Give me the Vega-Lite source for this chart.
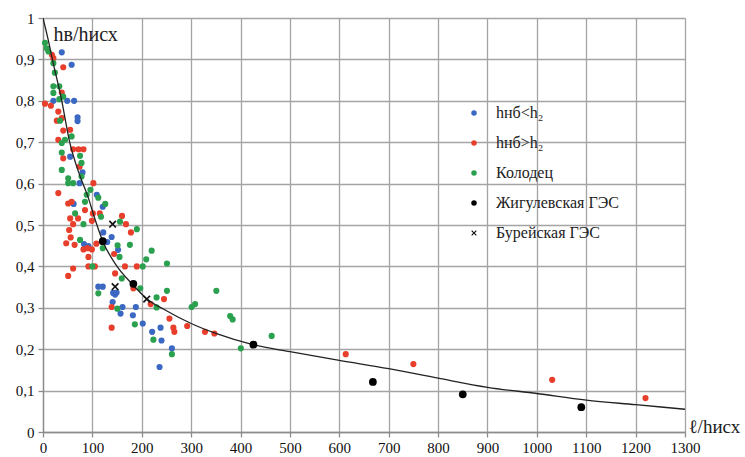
{
  "$schema": "https://vega.github.io/schema/vega-lite/v6.json",
  "width": 642,
  "height": 414,
  "autosize": "none",
  "padding": {"left": 43, "top": 18, "right": 60, "bottom": 25},
  "background": "white",
  "config": {
    "font": "Liberation Serif",
    "view": {"stroke": null},
    "legend": {
      "orient": "none",
      "legendX": 423,
      "legendY": 87,
      "padding": 0,
      "symbolSize": 30,
      "labelFont": "Liberation Serif",
      "labelFontSize": 16,
      "labelColor": "#222",
      "labelOffset": 14,
      "rowPadding": 14,
      "symbolStrokeWidth": 0
    }
  },
  "datasets": {
    "pts": [
      {"x": 38, "y": 0.917, "s": "b"}, {"x": 58, "y": 0.887, "s": "b"}, {"x": 21, "y": 0.80, "s": "b"}, {"x": 49, "y": 0.80, "s": "b"},
      {"x": 63, "y": 0.80, "s": "b"}, {"x": 70, "y": 0.76, "s": "b"}, {"x": 70, "y": 0.751, "s": "b"}, {"x": 55, "y": 0.665, "s": "b"},
      {"x": 80, "y": 0.627, "s": "b"}, {"x": 74, "y": 0.601, "s": "b"}, {"x": 109, "y": 0.573, "s": "b"}, {"x": 62, "y": 0.551, "s": "b"},
      {"x": 121, "y": 0.544, "s": "b"}, {"x": 122, "y": 0.482, "s": "b"}, {"x": 139, "y": 0.471, "s": "b"}, {"x": 130, "y": 0.459, "s": "b"},
      {"x": 83, "y": 0.454, "s": "b"}, {"x": 92, "y": 0.449, "s": "b"}, {"x": 152, "y": 0.44, "s": "b"}, {"x": 112, "y": 0.351, "s": "b"},
      {"x": 121, "y": 0.351, "s": "b"}, {"x": 146, "y": 0.332, "s": "b"}, {"x": 142, "y": 0.336, "s": "b"}, {"x": 149, "y": 0.337, "s": "b"},
      {"x": 141, "y": 0.314, "s": "b"}, {"x": 161, "y": 0.302, "s": "b"}, {"x": 157, "y": 0.286, "s": "b"}, {"x": 188, "y": 0.302, "s": "b"},
      {"x": 182, "y": 0.282, "s": "b"}, {"x": 202, "y": 0.262, "s": "b"}, {"x": 221, "y": 0.242, "s": "b"}, {"x": 238, "y": 0.252, "s": "b"},
      {"x": 240, "y": 0.221, "s": "b"}, {"x": 261, "y": 0.202, "s": "b"}, {"x": 236, "y": 0.157, "s": "b"},

      {"x": 18, "y": 0.911, "s": "r"}, {"x": 21, "y": 0.903, "s": "r"}, {"x": 41, "y": 0.881, "s": "r"}, {"x": 38, "y": 0.82, "s": "r"},
      {"x": 4, "y": 0.793, "s": "r"}, {"x": 16, "y": 0.788, "s": "r"}, {"x": 31, "y": 0.774, "s": "r"}, {"x": 28, "y": 0.752, "s": "r"},
      {"x": 38, "y": 0.758, "s": "r"}, {"x": 41, "y": 0.728, "s": "r"}, {"x": 55, "y": 0.73, "s": "r"}, {"x": 31, "y": 0.706, "s": "r"},
      {"x": 61, "y": 0.683, "s": "r"}, {"x": 72, "y": 0.683, "s": "r"}, {"x": 82, "y": 0.683, "s": "r"}, {"x": 41, "y": 0.661, "s": "r"},
      {"x": 74, "y": 0.641, "s": "r"}, {"x": 102, "y": 0.601, "s": "r"}, {"x": 31, "y": 0.577, "s": "r"}, {"x": 51, "y": 0.552, "s": "r"},
      {"x": 58, "y": 0.556, "s": "r"}, {"x": 85, "y": 0.536, "s": "r"}, {"x": 101, "y": 0.528, "s": "r"}, {"x": 115, "y": 0.528, "s": "r"},
      {"x": 55, "y": 0.516, "s": "r"}, {"x": 71, "y": 0.516, "s": "r"}, {"x": 61, "y": 0.502, "s": "r"}, {"x": 160, "y": 0.522, "s": "r"},
      {"x": 168, "y": 0.502, "s": "r"}, {"x": 99, "y": 0.51, "s": "r"}, {"x": 53, "y": 0.488, "s": "r"}, {"x": 178, "y": 0.482, "s": "r"},
      {"x": 56, "y": 0.47, "s": "r"}, {"x": 47, "y": 0.456, "s": "r"}, {"x": 64, "y": 0.452, "s": "r"}, {"x": 82, "y": 0.441, "s": "r"},
      {"x": 99, "y": 0.441, "s": "r"}, {"x": 108, "y": 0.455, "s": "r"}, {"x": 90, "y": 0.444, "s": "r"}, {"x": 92, "y": 0.423, "s": "r"},
      {"x": 144, "y": 0.43, "s": "r"}, {"x": 61, "y": 0.395, "s": "r"}, {"x": 92, "y": 0.40, "s": "r"}, {"x": 105, "y": 0.40, "s": "r"},
      {"x": 166, "y": 0.40, "s": "r"}, {"x": 190, "y": 0.40, "s": "r"}, {"x": 146, "y": 0.383, "s": "r"}, {"x": 51, "y": 0.377, "s": "r"},
      {"x": 183, "y": 0.347, "s": "r"}, {"x": 245, "y": 0.321, "s": "r"}, {"x": 218, "y": 0.309, "s": "r"}, {"x": 139, "y": 0.302, "s": "r"},
      {"x": 256, "y": 0.274, "s": "r"}, {"x": 139, "y": 0.252, "s": "r"}, {"x": 264, "y": 0.252, "s": "r"}, {"x": 266, "y": 0.242, "s": "r"},
      {"x": 292, "y": 0.256, "s": "r"}, {"x": 328, "y": 0.242, "s": "r"}, {"x": 347, "y": 0.238, "s": "r"}, {"x": 613, "y": 0.188, "s": "r"},
      {"x": 750, "y": 0.164, "s": "r"}, {"x": 1031, "y": 0.126, "s": "r"}, {"x": 1220, "y": 0.082, "s": "r"},

      {"x": 4, "y": 0.94, "s": "g"}, {"x": 7.5, "y": 0.927, "s": "g"}, {"x": 11, "y": 0.919, "s": "g"}, {"x": 21, "y": 0.891, "s": "g"},
      {"x": 24, "y": 0.868, "s": "g"}, {"x": 21, "y": 0.835, "s": "g"}, {"x": 33, "y": 0.835, "s": "g"}, {"x": 21, "y": 0.819, "s": "g"},
      {"x": 41, "y": 0.81, "s": "g"}, {"x": 33, "y": 0.804, "s": "g"}, {"x": 34.5, "y": 0.752, "s": "g"}, {"x": 44.6, "y": 0.706, "s": "g"},
      {"x": 58, "y": 0.714, "s": "g"}, {"x": 38, "y": 0.698, "s": "g"}, {"x": 38, "y": 0.675, "s": "g"}, {"x": 75, "y": 0.667, "s": "g"},
      {"x": 78, "y": 0.65, "s": "g"}, {"x": 38, "y": 0.633, "s": "g"}, {"x": 78, "y": 0.617, "s": "g"}, {"x": 51, "y": 0.613, "s": "g"},
      {"x": 51, "y": 0.601, "s": "g"}, {"x": 61, "y": 0.601, "s": "g"}, {"x": 96, "y": 0.585, "s": "g"}, {"x": 112, "y": 0.566, "s": "g"},
      {"x": 85, "y": 0.556, "s": "g"}, {"x": 88.5, "y": 0.573, "s": "g"}, {"x": 126, "y": 0.551, "s": "g"}, {"x": 65, "y": 0.528, "s": "g"},
      {"x": 117.5, "y": 0.52, "s": "g"}, {"x": 82, "y": 0.502, "s": "g"}, {"x": 156, "y": 0.508, "s": "g"}, {"x": 190, "y": 0.49, "s": "g"},
      {"x": 75, "y": 0.464, "s": "g"}, {"x": 176, "y": 0.452, "s": "g"}, {"x": 151, "y": 0.451, "s": "g"}, {"x": 121, "y": 0.444, "s": "g"},
      {"x": 155, "y": 0.423, "s": "g"}, {"x": 220, "y": 0.438, "s": "g"}, {"x": 209, "y": 0.417, "s": "g"}, {"x": 202, "y": 0.40, "s": "g"},
      {"x": 100, "y": 0.40, "s": "g"}, {"x": 251, "y": 0.407, "s": "g"}, {"x": 159.5, "y": 0.371, "s": "g"}, {"x": 197, "y": 0.347, "s": "g"},
      {"x": 112, "y": 0.335, "s": "g"}, {"x": 230, "y": 0.325, "s": "g"}, {"x": 251, "y": 0.341, "s": "g"}, {"x": 351, "y": 0.341, "s": "g"},
      {"x": 150.6, "y": 0.298, "s": "g"}, {"x": 230, "y": 0.301, "s": "g"}, {"x": 301, "y": 0.302, "s": "g"}, {"x": 308, "y": 0.309, "s": "g"},
      {"x": 186, "y": 0.26, "s": "g"}, {"x": 379, "y": 0.28, "s": "g"}, {"x": 384, "y": 0.272, "s": "g"}, {"x": 463, "y": 0.232, "s": "g"},
      {"x": 400.6, "y": 0.202, "s": "g"}, {"x": 223.5, "y": 0.223, "s": "g"}, {"x": 261, "y": 0.188, "s": "g"}
    ],
    "special": [
      {"x": 121, "y": 0.461, "s": "k"}, {"x": 183, "y": 0.358, "s": "k"}, {"x": 426, "y": 0.211, "s": "k"},
      {"x": 668, "y": 0.121, "s": "k"}, {"x": 850, "y": 0.091, "s": "k"}, {"x": 1090, "y": 0.060, "s": "k"},
      {"x": 141, "y": 0.502, "s": "x"}, {"x": 146, "y": 0.351, "s": "x"}, {"x": 210, "y": 0.321, "s": "x"}
    ],
    "curve": [
      {"x": 0, "y": 1.0}, {"x": 10, "y": 0.95}, {"x": 19, "y": 0.9}, {"x": 38, "y": 0.8}, {"x": 54, "y": 0.7},
      {"x": 70, "y": 0.635}, {"x": 92, "y": 0.565}, {"x": 105, "y": 0.515}, {"x": 121, "y": 0.461}, {"x": 150, "y": 0.40},
      {"x": 180, "y": 0.358}, {"x": 210, "y": 0.322}, {"x": 250, "y": 0.293}, {"x": 300, "y": 0.262}, {"x": 350, "y": 0.238},
      {"x": 425, "y": 0.211}, {"x": 500, "y": 0.194}, {"x": 600, "y": 0.173}, {"x": 700, "y": 0.153}, {"x": 800, "y": 0.130},
      {"x": 900, "y": 0.108}, {"x": 1000, "y": 0.093}, {"x": 1100, "y": 0.077}, {"x": 1200, "y": 0.066}, {"x": 1300, "y": 0.055}
    ]
  },
  "layer": [
    {
      "data": {"name": "pts"},
      "mark": {"type": "point", "filled": true, "opacity": 1, "size": 38, "strokeWidth": 0},
      "encoding": {
        "x": {
          "field": "x", "type": "quantitative",
          "scale": {"domain": [0, 1300], "nice": false, "zero": false},
          "axis": {
            "grid": true,
            "gridColor": "#a4a4a4",
            "gridWidth": 1.3,
            "domainColor": "#8c8c8c",
            "domainWidth": 1.3,
            "tickColor": "#8c8c8c",
            "tickSize": 5,
            "tickWidth": 1.3,
            "labelFont": "Liberation Serif",
            "labelFontSize": 15,
            "labelColor": "#111111",
            "labelFlush": false,
            "labelOverlap": false,
            "values": [0,50,100,150,200,250,300,350,400,450,500,550,600,650,700,750,800,850,900,950,1000,1050,1100,1150,1200,1250,1300],
            "labelExpr": "datum.value % 100 == 0 ? datum.value : ''",
            "labelPadding": 3,
            "title": "ℓ/hисх",
            "titleFont": "Liberation Serif",
            "titleFontWeight": "normal",
            "titleColor": "#222222",
            "titleFontSize": 19,
            "titleX": 645,
            "titleY": 0,
            "titleAlign": "left",
            "titleBaseline": "alphabetic"
          }
        },
        "y": {
          "field": "y", "type": "quantitative",
          "scale": {"domain": [0, 1], "nice": false, "zero": false},
          "axis": {
            "grid": true,
            "gridColor": "#a4a4a4",
            "gridWidth": 1.3,
            "domainColor": "#8c8c8c",
            "domainWidth": 1.3,
            "tickColor": "#8c8c8c",
            "tickSize": 5,
            "tickWidth": 1.3,
            "labelFont": "Liberation Serif",
            "labelFontSize": 15,
            "labelColor": "#111111",
            "labelFlush": false,
            "labelOverlap": false,
            "values": [0,0.05,0.1,0.15,0.2,0.25,0.3,0.35,0.4,0.45,0.5,0.55,0.6,0.65,0.7,0.75,0.8,0.85,0.9,0.95,1],
            "labelExpr": "round(datum.value*100) % 10 == 0 ? replace(format(datum.value, '.1~f'), '.', ',') : ''",
            "labelPadding": 4,
            "title": "hв/hисх",
            "titleFont": "Liberation Serif",
            "titleFontWeight": "normal",
            "titleColor": "#222222",
            "titleFontSize": 20,
            "titleAngle": 0,
            "titleX": 10,
            "titleY": 22,
            "titleAlign": "left",
            "titleBaseline": "alphabetic"
          }
        },
        "color": {
          "field": "s", "type": "nominal",
          "scale": {"domain": ["b", "r", "g", "k", "x"], "range": ["#3a68c2", "#e83e2c", "#2ba150", "#000000", "#111111"]},
          "legend": {
            "title": null,
            "labelExpr": "datum.label == 'b' ? 'hнб<h₂' : datum.label == 'r' ? 'hнб>h₂' : datum.label == 'g' ? 'Колодец' : datum.label == 'k' ? 'Жигулевская ГЭС' : 'Бурейская ГЭС'"
          }
        },
        "shape": {
          "field": "s", "type": "nominal",
          "scale": {"domain": ["b", "r", "g", "k", "x"], "range": ["circle", "circle", "circle", "circle", "M-1,-0.7L-0.7,-1L0,-0.3L0.7,-1L1,-0.7L0.3,0L1,0.7L0.7,1L0,0.3L-0.7,1L-1,0.7L-0.3,0Z"]},
          "legend": {
            "title": null,
            "labelExpr": "datum.label == 'b' ? 'hнб<h₂' : datum.label == 'r' ? 'hнб>h₂' : datum.label == 'g' ? 'Колодец' : datum.label == 'k' ? 'Жигулевская ГЭС' : 'Бурейская ГЭС'"
          }
        }
      }
    },
    {
      "data": {"name": "curve"},
      "mark": {"type": "line", "color": "#222222", "strokeWidth": 1.3, "interpolate": "monotone", "clip": true},
      "encoding": {
        "x": {"field": "x", "type": "quantitative"},
        "y": {"field": "y", "type": "quantitative"}
      }
    },
    {
      "data": {"name": "special"},
      "mark": {"type": "point", "filled": true, "opacity": 1, "size": 60, "strokeWidth": 0},
      "encoding": {
        "x": {"field": "x", "type": "quantitative"},
        "y": {"field": "y", "type": "quantitative"},
        "color": {"field": "s", "type": "nominal"},
        "shape": {"field": "s", "type": "nominal"}
      }
    }
  ]
}
